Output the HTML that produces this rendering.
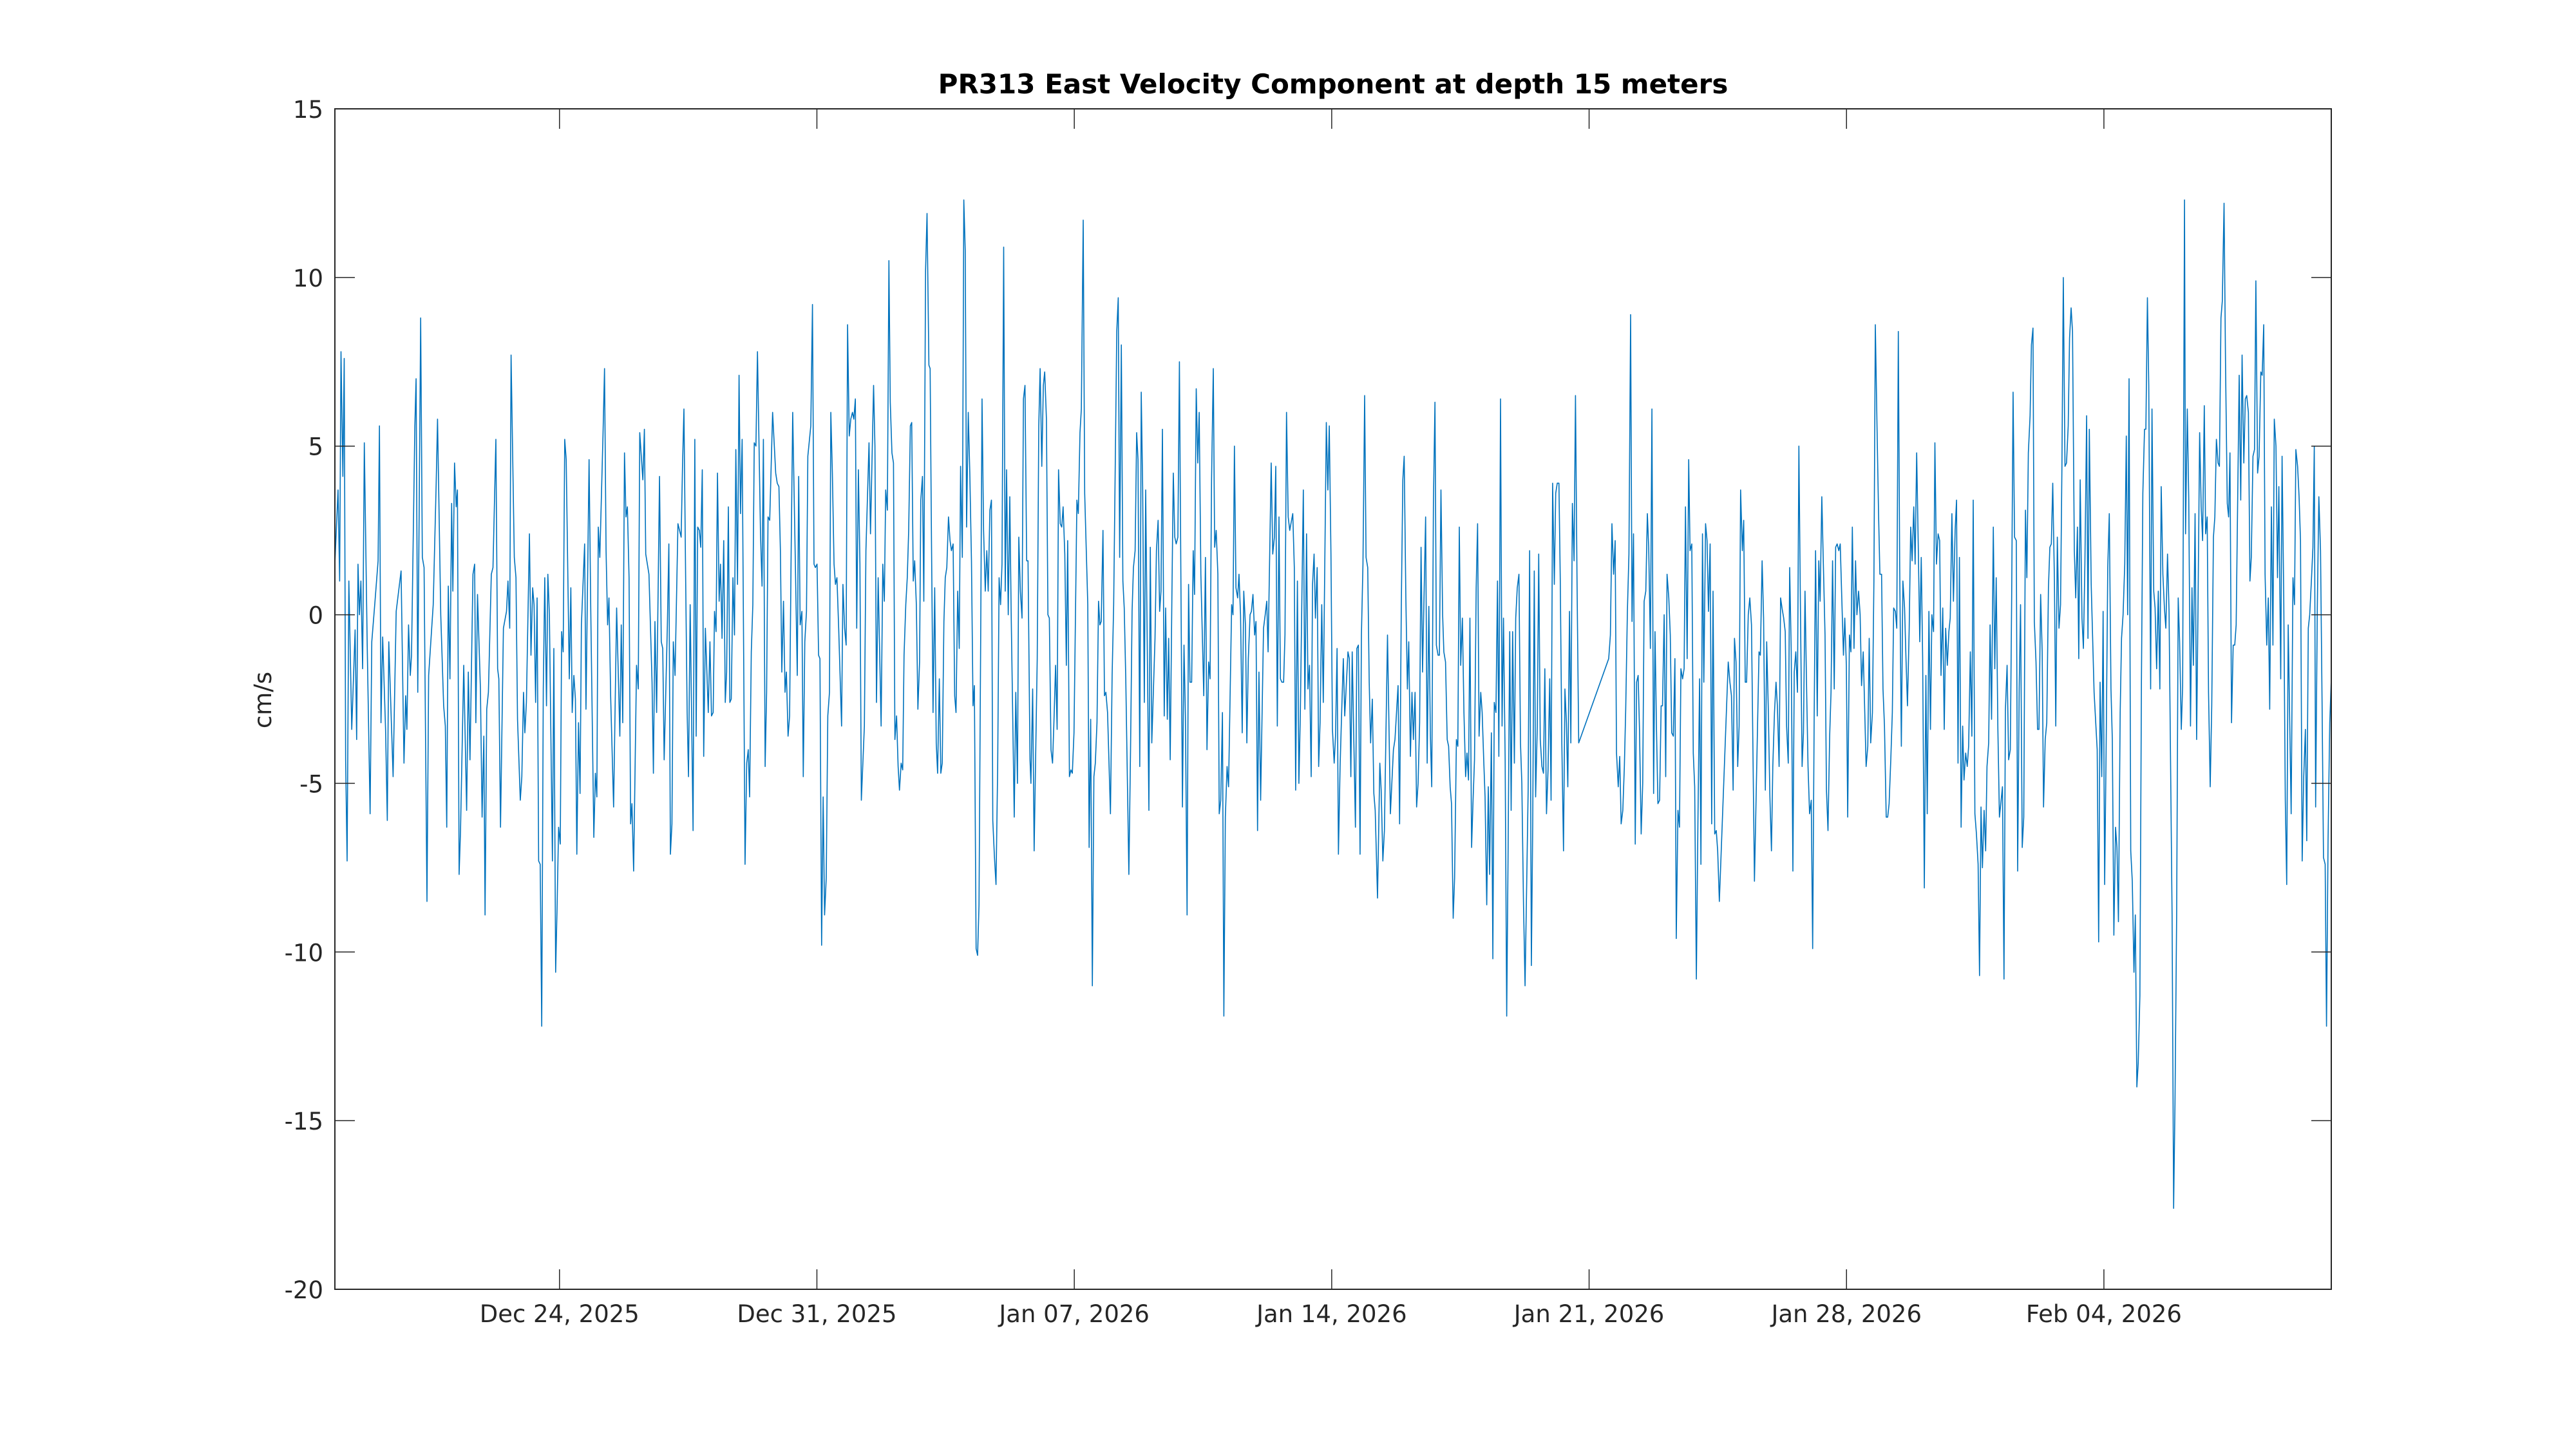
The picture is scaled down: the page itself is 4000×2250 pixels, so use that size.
<!DOCTYPE html>
<html>
<head>
<meta charset="utf-8">
<style>
html,body{margin:0;padding:0;background:#fff;}
svg{display:block;}
text{font-family:"DejaVu Sans","Liberation Sans",sans-serif;fill:#262626;}
</style>
</head>
<body>
<svg id="chart" width="4000" height="2250" viewBox="0 0 4000 2250" xmlns="http://www.w3.org/2000/svg">
  <rect x="0" y="0" width="4000" height="2250" fill="#ffffff"/>
  <rect x="520" y="169" width="3100" height="1833" fill="#ffffff"/>
  <g id="series"></g>
  <g id="axes"></g>
  <text x="2070" y="145" text-anchor="middle" font-size="42" font-weight="bold" style="fill:#000">PR313 East Velocity Component at depth 15 meters</text>
  <text x="421" y="1087" text-anchor="middle" font-size="37" transform="rotate(-90 421 1087)">cm/s</text>
</svg>
<script>
// ---- data (hours since start, East velocity cm/s) ----
const startLabel = "2025-12-17T21:24:00Z";
const hours = [
0.1,2.05,3.1,4,5.2,6.1,7,8,9.1,11,13.2,14.2,15.1,16,17,18.1,19.2,21.1,23,24.1,26.2,28.2,29.1,30.1,31.2,33.1,34.2,35.2,38,40,43.2,45.1,46.2,47,48.1,49.2,50,52.2,53,54.1,56,57.1,58.2,60.1,61.2,64.2,66.1,67,69.1,71,72.1,73,74,75.1,76.2,77,78.1,79.2,80,81.1,82,84.1,86,87.1,88.2,90.1,91.2,92,93.1,95,96.1,97.2,98,99.1,100.2,102.1,103.2,105.1,106.2,107,108.1,110,112,113,114.1,115,117.1,118.2,119.2,121,122,123.1,124,125,127,128,129.1,130,131,132,133,134,135,136,137,138.1,139,140,142,142.9,144.1,145,146,147.1,148,149,150,151,153,154,154.9,156,157,157.9,159,160,160.9,163,163.9,165.9,167,169,170,171,171.9,172.9,175,176,177,178,178.9,180,181.9,183.9,186,186.9,187.9,189,190,190.9,192,193,193.9,195,196.9,198,199,201,202,202.9,205,207,207.9,208.9,210,211.9,213,214,214.9,217,218,219,220,220.9,222,223.9,226,226.9,
227.8,228.9,229.9,230.8,231.9,233.8,234.9,235.8,236.8,237.9,238.8,239.8,240.7,241.8,243.7,244.8,245.8,246.9,247.8,248.8,249.7,250.8,251.7,252.7,253.8,254.8,255.7,256.8,257.8,258.7,259.8,260.8,261.7,262.8,263.8,264.7,265.8,266.8,267.7,268.8,269.8,270.7,271.8,272.8,273.7,274.8,275.8,277.8,278.8,279.7,280.8,281.8,282.7,283.8,285.7,287.7,288.7,289.8,290.8,291.7,292.8,293.8,294.7,295.8,296.8,297.7,298.8,300.7,301.8,302.7,303.7,304.8,305.7,306.7,307.8,308.7,310.6,311.7,312.7,313.6,314.7,315.7,316.6,317.7,318.7,319.6,320.7,321.7,322.8,323.7,324.7,325.8,326.7,327.7,328.8,330.7,331.6,332.7,333.7,334.6,335.7,336.7,337.8,338.7,339.7,340.6,341.7,342.7,343.6,345.6,346.6,348.6,349.6,351.6,352.5,353.5,354.6,356.5,357.6,358.6,359.5,360.6,361.6,362.5,363.6,364.6,365.5,366.6,367.6,368.5,369.6,370.6,371.5,372.6,373.6,374.5,375.6,376.5,377.5,378.4,379.5,380.5,381.6,382.4,383.5,384.4,385.5,386.5,387.7,388.5,389.4,390.4,391.5,392.5,393.4,394.5,395.5,396.4,397.5,398.4,399.4,400.5,401.5,402.4,403.5,404.5,405.4,406.5,407.5,408.4,409.5,410.5,411.4,412.3,413.4,414.4,415.5,416.5,417.4,418.5,419.5,420.4,421.5,422.4,423.4,424.5,425.5,426.4,427.5,428.5,429.4,430.5,431.5,432.6,433.5,434.5,435.4,436.5,437.5,438.4,439.5,440.5,441.4,443.4,444.4,445.5,446.4,447.4,448.5,449.4,450.4,451.5,452.4,453.7,
454.3,455.4,456.4,458.4,459.4,460.3,461.4,462.4,463.3,464.4,465.4,466.3,467.4,468.4,469.3,470.4,471.4,472.3,473.4,474.4,475.3,476.4,477.4,478.3,479.4,480.4,481.3,482.4,484.3,485.2,486.3,487.2,488.4,489.4,491.4,492.3,493.3,494.4,495.4,496.3,497.4,498.4,499.3,500.2,501.3,502.3,503.2,504.3,506.2,507.3,508.3,510.3,511.3,512.2,513.3,514.3,515.2,516.2,518.2,519.3,520.3,521.2,522.3,523.3,524.2,525.3,526.3,527.2,528.3,529.2,530.2,531.3,532.2,533.2,535.3,536.2,537.3,538.3,539.2,540.1,541.3,542.2,543.3,544.2,545.2,546.3,547.2,548.2,549.1,550.2,551.2,553.2,554.2,555.1,556.2,557.2,558.1,559.2,560.2,561.1,562.2,563.2,564.1,565.2,567.1,568.2,569.2,570.3,571.2,572.2,573.3,574.2,575.2,576.3,577.2,578.2,579.3,580.2,581.2,582.3,583.3,585.3,586.2,587.1,588.1,589.2,590.1,591.1,592.2,593.2,594.3,595.2,596.2,597.3,598.2,599.2,600.3,601.2,602.2,603.1,604.2,606.1,607.2,608.2,609.1,611.1,612.1,613.2,614.1,615.1,616.2,617.1,618.1,619.2,620.1,621.1,622.2,623.2,625.2,626.2,627.1,628.2,629.2,630.1,632.1,633.1,634.2,635.1,636.1,637.2,638.1,639.1,640.0,641.1,642.1,643.0,644.1,645.1,647.1,648.1,649.0,650.1,651.1,652.2,653.1,654.1,655.0,656.1,657.1,658.2,659.1,661.2,662.1,663.1,664.0,666.1,667.0,668.0,669.1,670.0,671.0,672.1,673.0,674.1,675.1,676.0,677.1,678.1,679.0,680.5,
682,682.9,684,685,687,688.9,690.9,691.9,693.9,694.9,696,697,697.9,699,700,700.9,702,703,703.9,705,706,707,708,708.9,709.9,711.9,712.9,714,715,715.9,717,718,718.9,720,720.9,721.9,723,723.8,724.9,726,726.9,727.9,728.8,729.9,730.8,732,732.9,733.9,734.8,735.9,736.9,738,738.9,739.9,740.8,741.9,742.8,743.8,744.9,745.8,746.8,747.9,748.8,749.8,750.7,751.8,752.8,753.7,754.8,755.8,756.7,757.8,758.8,759.7,760.8,761.8,762.7,763.8,764.8,765.7,766.8,767.7,768.7,769.8,770.7,771.7,772.8,773.8,774.7,775.8,776.8,777.9,778.8,779.8,780.9,781.8,782.8,783.7,784.8,785.7,786.7,787.8,788.8,789.7,790.8,791.8,792.9,793.8,794.8,795.9,796.8,797.8,798.9,799.8,800.8,801.9,802.8,803.8,804.7,805.8,806.7,807.7,808.8,809.7,810.7,811.8,831.4,832.5,833.5,834.6,835.6,836.5,837.6,838.6,839.5,840.6,841.6,842.5,843.6,844.6,845.7,846.6,847.6,848.7,849.6,850.6,851.5,852.6,853.6,854.5,855.6,856.6,857.5,858.6,859.6,860.7,861.6,862.6,863.5,864.6,865.6,866.5,867.6,868.6,869.5,870.6,871.6,872.5,873.6,874.6,875.5,876.6,877.6,878.5,879.6,880.6,881.5,882.6,883.6,884.5,885.6,886.6,887.5,888.6,889.6,890.7,891.6,892.6,893.5,894.6,895.6,896.5,897.6,898.6,899.5,900.6,901.6,902.5,903.6,
909.4,910.5,911.5,912.6,913.5,914.5,915.6,916.5,917.5,918.6,919.5,920.5,921.4,922.5,923.5,924.6,926.5,928.5,929.5,930.4,931.5,932.5,933.6,934.5,935.5,936.6,937.6,938.5,939.6,940.6,941.5,942.6,943.6,944.5,945.6,946.6,947.5,948.6,949.5,950.5,951.6,952.5,953.5,954.6,955.5,956.5,957.6,958.5,959.5,960.6,961.5,962.5,963.6,964.5,965.5,966.4,967.5,968.5,969.4,970.5,971.5,972.6,973.5,974.5,975.6,976.5,977.5,978.6,979.5,980.5,981.6,982.5,983.5,984.6,985.5,986.5,987.4,988.5,989.5,990.4,991.5,992.5,993.4,994.5,995.5,996.4,997.5,998.5,999.4,1000.5,1001.4,1002.4,1003.5,1004.5,1005.4,1006.5,1007.5,1008.4,1009.5,1010.4,1011.4,1012.5,1013.5,1014.4,1015.5,1016.5,1017.4,1018.5,1019.4,1020.4,1021.3,1022.4,1023.4,1024.5,1025.4,1026.4,1027.5,1028.5,1029.4,1030.5,1031.4,1032.4,1033.5,1034.4,1035.4,1036.3,1037.4,1038.4,1039.3,1040.4,1041.4,1042.3,1043.4,1044.3,1045.3,1046.4,1047.4,1048.3,1049.4,1050.4,1051.3,1052.4,1053.4,1054.3,1055.4,1056.4,1057.5,1058.4,1059.4,1060.3,1061.4,1062.4,1063.3,1064.4,1065.4,1066.3,1067.4,1068.4,1069.3,1070.4,1071.4,1072.5,1073.4,1074.4,1075.3,1076.4,1077.4,1078.3,1079.4,1080.3,1081.3,1082.4,1083.4,1084.3,1085.4,1086.4,1087.3,1088.4,1089.4,1090.3,1091.4,1092.4,1093.5,1094.4,1095.3,1096.3,1097.4,1098.3,1099.3,1100.2,1101.3,1102.3,1103.4,1104.3,1105.3,1106.4,1107.3,1108.3,1109.2,1110.3,1111.3,1112.2,1113.3,1114.3,1115.2,1116.3,1117.3,1118.4,1119.3,1120.3,1121.2,1122.3,1123.2,1124.2,1125.3,1126.3,1127.2,1128.1,1129.2,1130.2,1131.3,1132.2,1133.2,1134.1,
1135.3,1136.2,1137.3,1138.2,1139.1,1140.3,1141.2,1142.2,1143.3,1144.2,1145.1,1146.3,1148.2,1150.2,1151.2,1152.1,1153.2,1154.1,1155.1,1156.2,1157.1,1158.1,1159.2,1160.1,1161.1,1162.2,1163.1,1164.1,1165.2,1166.1,1167.1,1168.2,1169.2,1170.1,1171,1172.1,1173.1,1174.2,1175.1,1176.1,1177,1178.1,1179.1,1180,1181.1,1182,1183,1183.9,1185.1,1186,1187.1,1188,1189,1190.1,1191.1,1192,1193.1,1194.1,1195,1196.1,1197.1,1199.1,1200.1,1201,1202.1,1203.1,1204,1205.1,1206,1207.2,1207.9,1209,1210,1211.1,1212.1,1213,1214.1,1215.1,1216,1217.1,1218.1,1219,1220.1,1221,1222,1222.9,1224,1225,1226.1,1227,1228,1229.1,1230,1231,1231.9,1233,1234,1235.1,1236,1236.9,1237.9,1239,1240,1240.9,1242.9,1243.9,1244.8,1245.9,1246.9,1247.8,1248.9,1249.9,1250.8,1251.9,1252.9,1253.8,1254.9,1255.9,1257,1257.9,1258.9,1259.8,1260.9,1261.9,1262.8,1263.9,1264.9,1265.8,1266.9,1267.9,1268.8,1270,1270.9,1272,1273,1273.9,1274.9,1275.9,1276.8,1278,1279,1279.9,1281,1282,1282.9,1284,1285,1286.1,1287,1288,1288.9,1290,1291,1291.9,1292.8,1293.9,1294.9,1296,1297,1297.9,1299,1299.9,1300.9,1302,1303
];
const values = [
1.6,3.7,1.0,7.8,4.1,7.6,-4.3,-7.3,1.0,-3.4,-0.45,-3.7,1.5,0.0,1.0,-1.6,5.1,-0.9,-5.9,-0.8,0.4,1.6,5.6,-3.2,-0.66,-3.4,-6.1,-0.8,-4.8,0.1,1.3,-4.4,-2.4,-3.4,-0.3,-1.8,-1.2,5.6,7.0,-2.3,8.8,1.7,1.4,-8.5,-1.8,0.3,3.9,5.8,0.0,-2.7,-3.3,-6.3,0.85,-1.9,3.3,0.7,4.5,3.2,3.7,-7.7,-6.4,-1.5,-5.8,-1.7,-4.3,1.2,1.5,-3.2,0.6,-2.2,-6.0,-3.6,-8.9,-2.8,-2.3,1.2,1.4,5.2,-1.6,-1.9,-6.3,-0.4,0.1,1.0,-0.4,7.7,1.7,1.1,-3.1,-5.5,-4.8,-2.3,-3.5,-2.6,2.4,-1.2,0.8,0.3,-2.6,0.5,-7.3,-7.4,-12.2,-2.2,1.1,-2.7,1.2,0.0,-7.3,-1.0,-10.6,-8.7,-6.3,-6.8,-0.5,-1.1,5.2,4.6,-1.9,0.8,-2.9,-1.8,-2.5,-7.1,-3.2,-5.3,-0.3,2.1,-2.8,4.6,0.2,-6.6,-4.7,-5.4,2.6,1.7,5.3,7.3,1.9,-0.3,0.5,-2.4,-5.7,0.2,-3.6,-0.3,-3.2,4.8,2.9,3.2,1.1,-6.2,-5.6,-7.6,-1.5,-2.2,5.4,4.0,5.5,1.8,1.2,-2.0,-4.7,-0.2,-2.9,4.1,-0.8,-1.0,-4.3,-0.3,2.1,-7.1,-6.2,-0.8,-1.8,2.7,2.3,4.4,
6.1,1.2,-2.9,-4.8,0.3,-6.4,5.2,-3.6,2.6,2.5,2.0,4.3,-4.2,-0.4,-2.9,-0.8,-3.0,-2.9,0.1,-0.5,4.2,0.4,1.5,-0.7,2.2,-2.6,-1.7,3.2,-2.6,-2.5,1.1,-0.6,4.9,0.9,7.1,3.0,5.2,-1.3,-7.4,-4.4,-4.0,-5.4,-1.1,0.3,5.1,5.0,7.8,2.4,0.85,5.2,-4.5,-2.3,2.9,2.8,6.0,4.2,3.9,3.8,1.9,-1.7,0.4,-2.3,-1.7,-3.6,-3.0,1.5,6.0,1.1,-1.8,4.1,-0.3,0.1,-4.8,-0.8,0.1,4.7,5.6,9.2,1.5,1.4,1.5,-1.2,-1.3,-9.8,-5.4,-8.9,-7.8,-3.0,-2.3,6.0,4.2,1.5,0.9,1.1,-0.4,-3.3,0.9,-0.4,-0.9,8.6,5.3,5.8,6.0,5.8,6.4,-0.4,4.3,1.5,-5.5,-3.3,1.9,5.1,2.4,6.8,5.0,-2.6,1.1,-3.3,1.5,0.4,3.7,3.1,10.5,6.3,4.8,4.5,-3.7,-3.0,-4.5,-5.2,-4.4,-4.6,-1.2,0.3,1.1,2.5,5.6,5.7,1.0,1.6,0.3,-2.8,-1.4,3.4,4.1,0.4,10.2,11.9,7.4,7.3,2.2,-2.9,0.8,-3.8,-4.7,-1.9,-4.7,-4.4,-0.2,1.1,1.4,2.9,2.2,1.9,2.1,-2.4,-2.9,0.7,-1.0,4.4,1.7,12.3,10.8,2.6,6.0,4.2,1.6,-2.7,-2.1,-9.9,-10.1,-8.6,-0.7,6.4,2.5,0.7,1.9,0.7,3.1,3.4,-6.1,-7.2,-8.0,-4.5,1.1,0.3,1.5,10.9,0.7,4.3,0.0,3.5,0.1,-6.0,-2.3,-5.0,2.3,0.7,-0.1,6.4,6.8,1.6,1.6,-4.3,
-5.0,-2.2,-7.0,-1.3,5.6,7.3,4.4,6.8,7.2,5.8,0.0,-0.1,-4.0,-4.4,-3.2,-1.5,-3.4,4.3,2.7,2.6,3.2,1.8,-1.5,2.2,-4.8,-4.6,-4.7,-3.5,3.4,3.0,5.4,6.1,11.7,3.6,0.3,-6.9,-3.1,-11.0,-4.8,-4.4,-3.2,0.4,-0.3,-0.2,2.5,-2.4,-2.3,-2.9,-5.9,-1.8,0.3,8.4,9.4,1.7,8.0,1.0,0.2,-1.9,-7.7,-4.0,0.1,1.4,1.9,5.4,4.6,-4.5,6.6,3.8,-2.6,3.7,-0.8,-5.8,2.0,-3.8,-0.7,1.9,2.8,0.1,0.7,5.5,-3.0,0.2,-3.1,-0.7,-4.3,0.5,4.2,2.3,2.1,2.3,7.5,-5.7,-0.9,-3.0,-8.9,0.9,-2.0,-2.0,1.9,0.6,6.7,4.5,6.0,1.2,-2.4,1.7,-4.0,-1.4,-1.9,4.0,7.3,2.0,2.5,1.2,-5.9,-5.5,-2.9,-11.9,-6.0,-4.5,-5.1,0.3,0.0,5.0,0.8,0.5,1.2,0.0,-3.5,0.7,-0.3,-3.8,-1.3,0.0,0.1,0.6,-0.6,-0.2,-6.4,-1.7,-5.5,-0.4,0.0,0.4,-1.1,4.5,1.8,2.3,4.4,-3.3,2.9,-1.9,-2.0,-2.0,-0.6,6.0,2.9,2.5,3.0,1.4,-5.2,1.0,-5.0,-3.0,3.7,-2.8,2.4,-2.2,-1.5,-4.8,0.9,1.8,-0.1,1.4,-4.5,-3.2,0.3,-2.6,5.7,3.7,5.6,1.8,-3.4,-4.4,-3.6,-1.0,-7.1,-4.5,-2.9,-1.3,-3.0,-1.1,-1.3,-4.8,-1.1,-6.3,-1.0,-0.9,-7.1,-0.6,1.5,6.5,1.7,1.4,-2.0,-3.8,-2.5,-5.3,-5.8,-8.4,
-4.4,-5.2,-7.3,-6.4,-0.6,-5.9,-4.0,-3.7,-2.1,-6.2,0.2,4.0,4.7,0.5,-2.2,-0.8,-4.2,-2.3,-3.7,-2.3,-5.7,-5.0,-3.2,2.0,-1.7,2.9,-4.4,0.25,-3.6,-5.1,3.3,6.3,-0.9,-1.2,-1.2,3.7,0.0,-1.1,-1.4,-3.7,-3.9,-5.1,-5.6,-9.0,-7.8,-3.7,-3.9,2.6,-1.5,-0.1,-2.9,-4.8,-4.1,-4.9,-0.1,-6.9,-5.6,-4.3,0.8,2.7,-3.6,-2.3,-2.9,-4.3,-5.4,-8.6,-5.1,-7.7,-3.5,-10.2,-2.6,-2.9,1.0,-4.2,6.4,-3.3,-0.1,-4.3,-11.9,-7.2,-0.5,-5.8,-0.5,-4.4,-0.1,0.8,1.2,-3.8,-5.0,-8.6,-11.0,-7.9,-5.2,1.9,-10.4,-6.2,1.3,-5.4,-3.3,1.8,-3.7,-4.5,-4.7,-1.6,-5.9,-4.6,-1.9,-5.5,3.9,0.9,3.6,3.9,3.9,1.0,-3.8,-7.0,-2.2,-3.2,-5.1,0.1,-3.8,3.3,1.6,6.5,1.0,-3.8,-1.3,-0.6,2.7,1.2,2.2,-4.1,-5.1,-4.2,-6.2,-5.8,-4.5,-2.8,0.1,1.8,8.9,-0.2,2.4,-6.8,-2.0,-1.8,-3.4,-6.5,-5.0,0.4,0.7,3.0,2.0,-1.0,6.1,-5.3,-0.5,-3.4,-5.6,-5.5,-2.7,-2.7,0.0,-4.8,1.2,0.5,-0.6,-3.5,-3.6,-1.3,-9.6,-5.8,-6.3,-1.6,-1.9,-1.6,3.2,-1.3,4.6,1.9,2.1,-4.1,-5.1,-10.8,-6.2,-1.9,-7.4,2.4,-2.0,2.7,2.2,0.1,2.1,-6.2,0.7,-6.5,-6.4,-7.0,-8.5,
-1.4,-2.0,-2.4,-5.2,-0.7,-1.4,-4.5,-3.3,3.7,1.9,2.8,-2.0,-2.0,0.0,0.5,-0.3,-7.9,-3.4,-1.1,-1.2,1.6,-0.1,-5.2,-0.8,-2.7,-5.4,-7.0,-4.5,-2.9,-2.0,-2.7,-4.5,0.5,0.2,-0.1,-0.5,-3.3,-4.4,1.4,-1.1,-7.6,-1.7,-1.1,-2.3,5.0,0.4,-4.5,-3.5,0.7,-2.3,-4.5,-5.9,-5.5,-9.9,-3.1,1.9,-3.0,1.6,0.4,3.5,1.5,-0.6,-5.2,-6.4,-3.6,-2.3,1.6,-2.2,2.0,2.1,1.9,2.1,0.5,-1.2,-0.1,-1.5,-6.0,-0.6,-1.1,2.6,-1.0,1.6,0.0,0.7,0.0,-2.1,-1.1,-2.9,-4.5,-3.9,-0.7,-3.8,-2.9,1.0,8.6,5.6,3.0,1.2,1.2,-2.2,-3.3,-6.0,-6.0,-5.6,-4.3,-2.9,0.2,0.1,-0.4,8.4,1.5,-3.9,1.0,0.2,-1.3,-2.7,-0.4,2.6,1.6,3.2,1.5,4.8,1.9,-0.8,1.7,-1.3,-8.1,-1.8,-5.9,0.1,-3.4,0.0,-0.5,5.1,1.5,2.4,2.2,-1.8,0.2,-3.4,-0.4,-1.5,-0.5,-0.1,3.0,0.4,2.5,3.4,-4.4,1.7,-6.3,-3.3,-4.9,-4.1,-4.5,-3.9,-1.1,-3.6,3.4,-5.9,-6.5,-7.4,-10.7,-5.7,-7.5,-5.8,-7.0,-4.5,-3.8,-0.3,-3.1,2.6,-1.6,1.1,-3.4,-6.0,-5.6,-5.1,-10.8,-2.8,-1.5,-4.3,-4.0,0.5,6.6,2.3,2.2,-7.6,-2.2,0.3,-6.9,-6.0,3.1,1.1,4.8,5.9,8.0,8.5,-0.2,-1.4,-3.4,-3.4,0.6,-1.1,-5.7,-3.7,-3.2,0.8,2.0,2.1,3.9,1.0,-3.3,2.3,-0.4,0.3,4.3,10.0,4.4,4.5,5.6,8.2,9.1,8.4,
1.9,0.5,2.6,-1.3,4.0,-0.1,-1.0,1.5,5.9,-0.7,5.5,0.9,-2.3,-4.0,-9.7,-2.0,-4.8,0.1,-8.0,-3.4,1.4,3.0,-2.2,-3.7,-9.5,-6.3,-6.9,-9.1,-2.9,-0.7,0.0,1.5,5.3,0.0,7.0,-7.0,-7.9,-10.6,-8.9,-14.0,-13.3,-11.3,-2.0,3.6,5.5,5.5,9.4,6.8,-2.2,6.1,0.7,0.2,-1.6,0.7,-2.2,3.8,1.2,0.2,-0.4,1.8,0.1,-8.9,-17.6,-14.5,-8.9,0.5,-0.8,-3.4,-2.1,12.3,2.4,6.1,3.4,-3.3,0.8,-1.5,3.0,-3.7,0.1,5.4,3.2,2.2,6.2,2.4,2.9,-2.3,-5.1,-2.7,2.3,2.9,5.2,4.5,4.4,8.8,9.3,12.2,7.4,3.3,2.9,4.8,-3.2,-0.9,-0.9,-0.3,7.1,3.4,7.7,4.5,6.4,6.5,6.0,1.0,1.7,4.7,4.9,9.9,4.2,4.7,7.2,7.1,8.6,1.2,-0.9,0.5,-2.8,3.2,-0.9,5.8,5.0,1.1,3.8,-1.9,4.7,0.5,-5.5,-8.0,-0.3,-3.2,-5.9,1.1,0.3,4.9,4.4,3.5,2.2,-7.3,-4.8,-3.4,-6.7,-0.4,0.0,1.0,2.0,5.0,-5.7,0.2,3.5,1.9,-2.6,-7.2,-7.4,-12.2,-6.7,-3.2,-1.9
];
const yTicks = [15,10,5,0,-5,-10,-15,-20];
const yTickLabels = ["15","10","5","0","-5","-10","-15","-20"];
const xTickDates = ["2025-12-24","2025-12-31","2026-01-07","2026-01-14","2026-01-21","2026-01-28","2026-02-04"];
const xTickLabels = ["Dec 24, 2025","Dec 31, 2025","Jan 07, 2026","Jan 14, 2026","Jan 21, 2026","Jan 28, 2026","Feb 04, 2026"];

// ---- layout ----
const L=520, R=3620, T=169, B=2002;
const startMs = Date.parse(startLabel);
const hMax = 1303;
const yMin=-20, yMax=15;
function xScale(h){ return L + (h/hMax)*(R-L); }
function yScale(v){ return B - (v-yMin)/(yMax-yMin)*(B-T); }
function dateToHour(s){ return (Date.parse(s+"T00:00:00Z")-startMs)/3600000; }

const NS="http://www.w3.org/2000/svg";
const series=document.getElementById('series');
const axes=document.getElementById('axes');

let d="";
for(let i=0;i<hours.length;i++){
  d += (i?"L":"M") + xScale(hours[i]).toFixed(1) + " " + yScale(values[i]).toFixed(1);
}
const line=document.createElementNS(NS,'path');


line.setAttribute('d', d);
line.setAttribute('fill','none');
line.setAttribute('stroke','#0072BD');
line.setAttribute('stroke-width','1.6');
line.setAttribute('stroke-linejoin','round');
series.appendChild(line);

const box=document.createElementNS(NS,'rect');


box.setAttribute('x',L); box.setAttribute('y',T);
box.setAttribute('width',R-L); box.setAttribute('height',B-T);
box.setAttribute('fill','none'); box.setAttribute('stroke','#262626'); box.setAttribute('stroke-width','2');
axes.appendChild(box);

const TL=31;
yTicks.forEach((v,i)=>{
  const y=yScale(v);
  const t1=document.createElementNS(NS,'line');
  
  
  t1.setAttribute('x1',L); t1.setAttribute('x2',L+TL); t1.setAttribute('y1',y); t1.setAttribute('y2',y);
  t1.setAttribute('stroke','#262626'); t1.setAttribute('stroke-width','1.5');
  axes.appendChild(t1);
  const t2=document.createElementNS(NS,'line');
  
  
  t2.setAttribute('x1',R-TL); t2.setAttribute('x2',R); t2.setAttribute('y1',y); t2.setAttribute('y2',y);
  t2.setAttribute('stroke','#262626'); t2.setAttribute('stroke-width','1.5');
  axes.appendChild(t2);
  const tx=document.createElementNS(NS,'text');
  
  
  tx.setAttribute('x',L-18); tx.setAttribute('y',y+14);
  tx.setAttribute('text-anchor','end'); tx.setAttribute('font-size','37');
  tx.textContent=yTickLabels[i];
  axes.appendChild(tx);
});
xTickDates.forEach((s,i)=>{
  const x=xScale(dateToHour(s));
  const t1=document.createElementNS(NS,'line');
  
  
  t1.setAttribute('x1',x); t1.setAttribute('x2',x); t1.setAttribute('y1',B); t1.setAttribute('y2',B-TL);
  t1.setAttribute('stroke','#262626'); t1.setAttribute('stroke-width','1.5');
  axes.appendChild(t1);
  const t2=document.createElementNS(NS,'line');
  
  
  t2.setAttribute('x1',x); t2.setAttribute('x2',x); t2.setAttribute('y1',T); t2.setAttribute('y2',T+TL);
  t2.setAttribute('stroke','#262626'); t2.setAttribute('stroke-width','1.5');
  axes.appendChild(t2);
  const tx=document.createElementNS(NS,'text');
  
  
  tx.setAttribute('x',x); tx.setAttribute('y',2053);
  tx.setAttribute('text-anchor','middle'); tx.setAttribute('font-size','37');
  tx.textContent=xTickLabels[i];
  axes.appendChild(tx);
});
</script>
</body>
</html>
